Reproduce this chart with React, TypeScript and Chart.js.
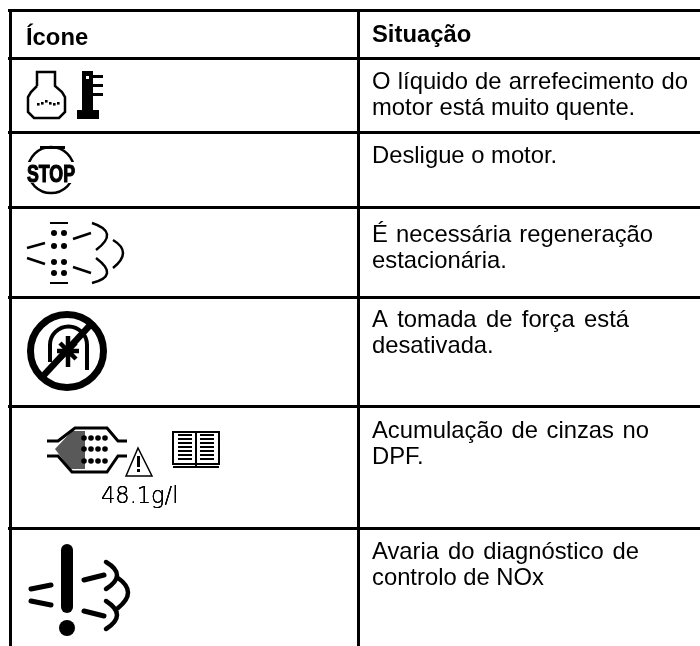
import React, { useEffect, useRef } from "react";
import { Chart, registerables } from "chart.js";

Chart.register(...registerables);

const headers = ["Ícone", "Situação"];
const situations = [
  ["O líquido de arrefecimento do", "motor está muito quente."],
  ["Desligue o motor."],
  ["É necessária regeneração", "estacionária."],
  ["A tomada de força está", "desativada."],
  ["Acumulação de cinzas no", "DPF."],
  ["Avaria do diagnóstico de", "controlo de NOx"],
];
const iconCaption = "48.1g/l";
const stopLabel = "STOP";

const COLUMN_LINES = [10.5, 358];
const ROW_LINES = [10.5, 58.5, 132.5, 207.5, 297.5, 406.5, 528.5];
const FIRST_BASELINES = [89, 163, 242, 327, 438, 559];
const LINE_STEP = 26;
const FIRST_LINE_WIDTHS = [316, 0, 281, 257, 277, 267];
const TEXT_X = 372;

type C = CanvasRenderingContext2D;

function stroke(c: C, w: number, fn: () => void) {
  c.lineWidth = w;
  c.beginPath();
  fn();
  c.stroke();
}
function dot(c: C, x: number, y: number, r: number) {
  c.beginPath();
  c.arc(x, y, r, 0, Math.PI * 2);
  c.fill();
}
function seg(c: C, pts: number[]) {
  c.moveTo(pts[0], pts[1]);
  for (let i = 2; i < pts.length; i += 2) c.lineTo(pts[i], pts[i + 1]);
}

function coolant(c: C) {
  stroke(c, 2.5, () => {
    seg(c, [37, 86, 37, 72, 55, 72, 55, 86, 62, 92, 65, 97, 65, 112, 59, 118, 34, 118, 28, 112, 28, 97, 31, 92, 37, 86]);
  });
  [[37, 103], [41, 102], [45, 100], [49, 102], [53, 103], [57, 102]].forEach(([x, y]) => c.fillRect(x, y, 2.6, 2.6));
  c.fillRect(82, 71, 11, 40);
  c.fillRect(77, 110, 22, 9);
  c.fillRect(93, 75, 10, 3);
  c.fillRect(93, 84, 10, 3);
  c.fillRect(93, 93, 10, 3);
  c.clearRect(86, 76, 3, 3);
}

function stopIcon(c: C) {
  stroke(c, 2.5, () => c.arc(51, 170, 23, 0, Math.PI * 2));
  c.fillRect(40, 146, 25, 3);
  c.save();
  c.fillStyle = "#fff";
  c.fillRect(26, 162, 50, 21);
  c.restore();
  c.font = "bold 23px 'Liberation Sans'";
  c.textBaseline = "alphabetic";
  c.lineWidth = 1.2;
  c.fillText(stopLabel, 27, 182, 48);
  c.strokeText(stopLabel, 27, 182, 48);
}

function regenCloud(c: C) {
  c.fillRect(50, 222, 18, 2);
  c.fillRect(50, 282, 18, 2);
  [233, 246, 262, 273].forEach((y) => {
    dot(c, 54, y, 3);
    dot(c, 64, y, 3);
  });
  stroke(c, 2.5, () => {
    seg(c, [27, 248, 45, 243]);
    seg(c, [27, 258, 45, 264]);
    seg(c, [73, 239, 91, 233]);
    seg(c, [73, 267, 91, 273]);
  });
  stroke(c, 2.5, () => {
    c.moveTo(92, 223);
    c.quadraticCurveTo(120, 232, 96, 250);
    c.moveTo(113, 240);
    c.quadraticCurveTo(133, 252, 113, 268);
    c.moveTo(96, 258);
    c.quadraticCurveTo(120, 276, 92, 283);
  });
}

function ptoOff(c: C) {
  stroke(c, 7, () => c.arc(67, 351, 36.5, 0, Math.PI * 2));
  stroke(c, 4, () => {
    c.moveTo(50, 362);
    c.lineTo(50, 345);
    c.arc(68.5, 345, 18.5, Math.PI, 0);
    c.lineTo(87, 370);
  });
  stroke(c, 4.5, () => {
    seg(c, [57, 351, 79, 351]);
    seg(c, [68, 336, 68, 367]);
    seg(c, [60, 343, 76, 359]);
    seg(c, [60, 359, 76, 343]);
  });
  stroke(c, 6.5, () => seg(c, [44, 375, 93, 322]));
}

function dpfWarning(c: C) {
  c.save();
  c.globalAlpha = 0.65;
  c.beginPath();
  seg(c, [55, 449, 72, 431, 85, 431, 85, 469, 70, 469]);
  c.closePath();
  c.fill();
  c.restore();
  stroke(c, 3, () => {
    seg(c, [47, 441, 58, 441, 75, 428, 107, 428, 118, 441, 127, 441]);
    seg(c, [47, 456, 58, 456, 72, 472, 107, 472, 118, 456, 127, 456]);
  });
  [438, 449, 461].forEach((y) => [84, 91, 98, 105].forEach((x) => dot(c, x, y, 2.8)));

  c.save();
  c.fillStyle = "#fff";
  c.beginPath();
  seg(c, [126, 476, 138, 448, 152, 476]);
  c.closePath();
  c.fill();
  c.restore();
  stroke(c, 1.5, () => {
    seg(c, [126, 476, 138, 448, 152, 476]);
    c.closePath();
  });
  c.fillRect(137, 456, 3, 11);
  c.fillRect(137, 469, 3, 3);

  stroke(c, 2, () => {
    c.rect(173, 432, 46, 32);
    seg(c, [196, 432, 196, 467]);
    seg(c, [173, 467, 219, 467]);
  });
  stroke(c, 2, () => {
    [435, 439, 443, 447, 451, 455, 459].forEach((y) => {
      seg(c, [178, y, 192, y]);
      seg(c, [200, y, 214, y]);
    });
  });
  c.font = "200 22.5px 'DejaVu Sans'";
  c.textBaseline = "alphabetic";
  c.fillText(iconCaption, 101, 503);
  c.fillText(iconCaption, 101, 503);
  c.fillText(iconCaption, 101, 503);
}

function noxFault(c: C) {
  c.lineCap = "round";
  stroke(c, 12, () => seg(c, [67, 550, 67, 607]));
  dot(c, 67, 628, 8);
  stroke(c, 5, () => {
    seg(c, [31, 589, 51, 585]);
    seg(c, [31, 601, 51, 605]);
    seg(c, [84, 580, 104, 575]);
    seg(c, [84, 611, 104, 616]);
  });
  stroke(c, 4.5, () => {
    c.moveTo(106, 562);
    c.quadraticCurveTo(128, 575, 106, 589);
    c.moveTo(118, 578);
    c.quadraticCurveTo(138, 592, 118, 608);
    c.moveTo(106, 601);
    c.quadraticCurveTo(128, 615, 106, 629);
  });
  c.lineCap = "butt";
}

const tablePlugin = {
  id: "tableContent",
  afterDatasetsDraw(chart: Chart) {
    const c = chart.ctx as C;
    c.save();
    c.fillStyle = "#000";
    c.strokeStyle = "#000";
    c.textBaseline = "alphabetic";
    c.font = "bold 23.8px 'Liberation Sans'";
    c.fillText(headers[0], 26, 45);
    c.fillText(headers[1], TEXT_X, 42);
    c.font = "23.8px 'Liberation Sans'";
    situations.forEach((lines, i) => {
      lines.forEach((t, j) => {
        const target = j === 0 ? FIRST_LINE_WIDTHS[i] : 0;
        (c as any).wordSpacing = "0px";
        if (target) {
          const extra = (target - c.measureText(t).width) / (t.split(" ").length - 1);
          (c as any).wordSpacing = `${extra}px`;
        }
        c.fillText(t, TEXT_X, FIRST_BASELINES[i] + j * LINE_STEP);
      });
    });
    (c as any).wordSpacing = "0px";
    [coolant, stopIcon, regenCloud, ptoOff, dpfWarning, noxFault].forEach((draw) => {
      c.save();
      draw(c);
      c.restore();
    });
    c.restore();
  },
};

export default function App() {
  const ref = useRef<HTMLCanvasElement>(null);
  useEffect(() => {
    document.body.style.margin = "0";
    const chart = new Chart(ref.current!, {
      type: "scatter",
      data: { datasets: [{ data: [] }] },
      plugins: [tablePlugin],
      options: {
        animation: false,
        responsive: false,
        layout: { padding: { left: 8, top: 9, right: 0, bottom: 0 } },
        plugins: { legend: { display: false }, tooltip: { enabled: false }, title: { display: false } },
        scales: {
          x: {
            type: "linear",
            min: 8,
            max: 700,
            afterBuildTicks: (s: any) => {
              s.ticks = COLUMN_LINES.map((value) => ({ value }));
            },
            ticks: { display: false },
            border: { display: false },
            grid: { color: "#000", lineWidth: 3, drawTicks: false },
          },
          y: {
            type: "linear",
            reverse: true,
            min: 9,
            max: 646,
            afterBuildTicks: (s: any) => {
              s.ticks = ROW_LINES.map((value) => ({ value }));
            },
            ticks: { display: false },
            border: { display: false },
            grid: { color: "#000", lineWidth: 3, drawTicks: false },
          },
        },
      },
    } as any);
    return () => chart.destroy();
  }, []);
  return <canvas ref={ref} width={700} height={646} style={{ display: "block", background: "#fff" }} />;
}
